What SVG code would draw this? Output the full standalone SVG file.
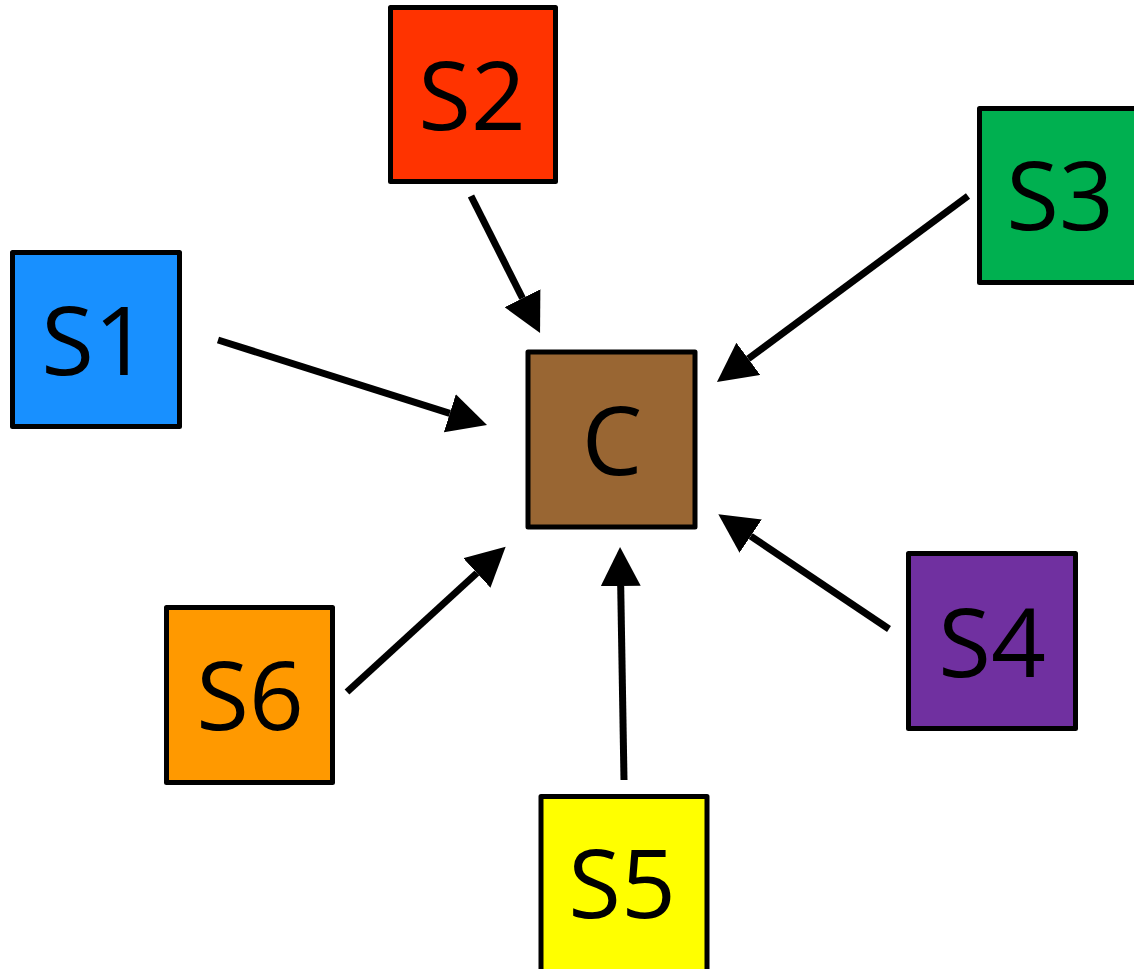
<svg xmlns="http://www.w3.org/2000/svg" width="1134" height="969" viewBox="0 0 1134 969">
  <style>
    .box { stroke: #000; stroke-width: 5; stroke-linejoin: round; }
    .lbl { font-family: "Open Sans", "Liberation Sans", sans-serif; font-size: 96px; fill: #000; text-anchor: middle; }
    .edge { stroke: #000; stroke-width: 7; fill: none; marker-end: url(#head); }
  </style>
  <defs>
    <marker id="head" markerUnits="userSpaceOnUse" markerWidth="40" markerHeight="40" refX="0" refY="20" orient="auto" viewBox="0 0 40 40">
      <path d="M0,0 L39,20 L0,40 Z" fill="#000"/>
    </marker>
  </defs>
  <rect width="1134" height="969" fill="#fff"/>

  <g id="connectors">
    <line class="edge" x1="218" y1="340" x2="449.8" y2="413.3"/>
    <line class="edge" x1="471" y1="196" x2="522.5" y2="298.2"/>
    <line class="edge" x1="968" y1="196" x2="748.3" y2="358.8"/>
    <line class="edge" x1="889" y1="629" x2="750.7" y2="536.1"/>
    <line class="edge" x1="624" y1="780" x2="620.7" y2="586"/>
    <line class="edge" x1="347" y1="692" x2="476.9" y2="573"/>
  </g>

  <g id="C">
    <rect class="box" x="528" y="352" width="167" height="175" fill="#996633"/>
    <text class="lbl" x="612" y="475">C</text>
  </g>
  <g id="S1">
    <rect class="box" x="12.5" y="252.5" width="167" height="174" fill="#1890ff"/>
    <text class="lbl" x="95" y="375">S1</text>
  </g>
  <g id="S2">
    <rect class="box" x="390.5" y="7.5" width="165" height="174" fill="#ff3300"/>
    <text class="lbl" x="472" y="130">S2</text>
  </g>
  <g id="S3">
    <rect class="box" x="979.5" y="108.5" width="167" height="174" fill="#00b050"/>
    <text class="lbl" x="1060" y="230">S3</text>
  </g>
  <g id="S4">
    <rect class="box" x="908.5" y="553.5" width="167" height="175" fill="#7030a0"/>
    <text class="lbl" x="992" y="677">S4</text>
  </g>
  <g id="S5">
    <rect class="box" x="541" y="796.5" width="166" height="180" fill="#ffff00"/>
    <text class="lbl" x="622" y="918">S5</text>
  </g>
  <g id="S6">
    <rect class="box" x="166.5" y="607.5" width="166" height="175" fill="#ff9900"/>
    <text class="lbl" x="250" y="730">S6</text>
  </g>
</svg>
